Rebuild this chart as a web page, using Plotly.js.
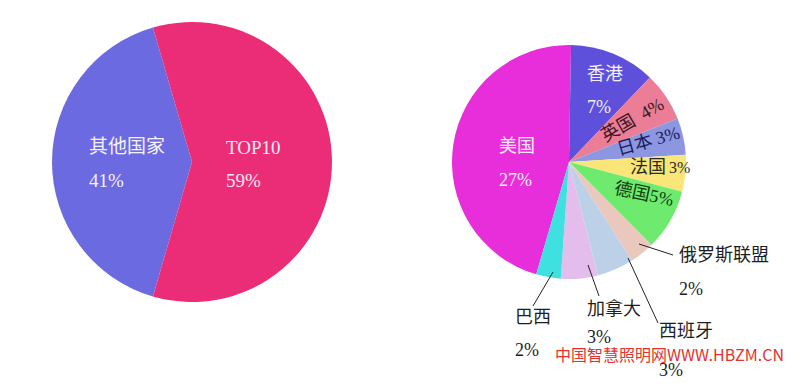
<!DOCTYPE html>
<html><head><meta charset="utf-8">
<script src="https://cdn.plot.ly/plotly-3.0.1.min.js"></script>
<style>html,body{margin:0;padding:0;background:#fff}#chart{width:800px;height:388px}</style>
</head><body><div id="chart"></div>
<script>
// ---- data ----
const overviewLabels = ['其他国家', 'TOP10'];
const overviewValues = [41, 59];
const overviewColors = ['#6C6AE0', '#EB2D78'];

const topLabels = ['美国', '香港', '英国', '日本', '法国', '德国', '俄罗斯联盟', '西班牙', '加拿大', '巴西'];
const topValues = [27, 7, 4, 3, 3, 5, 2, 3, 3, 2];
const topColors = ['#E82DDA', '#5F50DC', '#EB7D96', '#8C96E1', '#FAE678', '#6EEB6E', '#EBC8BE', '#BCD0E8', '#E3BDEB', '#3FE0E0'];

const watermark = '中国智慧照明网WWW.HBZM.CN';

// ---- layout helpers ----
const W = 800, H = 388;
const px = x => x / W, py = y => 1 - y / H;
const FONT = '"Liberation Serif", "Noto Sans CJK SC", serif';
const pct = v => v + '%';

const overviewSum = overviewValues.reduce((a, b) => a + b, 0);
const topSum = topValues.reduce((a, b) => a + b, 0);

// label placement (pixels)
const overviewPlace = [
  {nx: 87, ny: 146, qx: 87, qy: 180, color: '#F4F2FF'},
  {nx: 224, ny: 147, qx: 224, qy: 180, color: '#FFE8F2'}
];
const topPlace = [
  {nx: 497, ny: 146, qx: 497, qy: 180, color: '#FBEAFB'},
  {nx: 585, ny: 74, qx: 585, qy: 107, color: '#F2F0FF'},
  {rot: true, x: 632, y: 120, angle: -30, sep: '&nbsp;&nbsp;', color: '#3A1620'},
  {rot: true, x: 648, y: 141, angle: -16, sep: '&nbsp;', color: '#18205A'},
  {nx: 628, ny: 167, qx: 667, qy: 167, color: '#2A2A20', qsize: 16},
  {rot: true, x: 644, y: 194, angle: 12, sep: '', color: '#0E3A0E'},
  {nx: 677, ny: 255, qx: 677, qy: 289, color: '#1E1E1E', line: [639, 244, 673, 255]},
  {nx: 657, ny: 331, qx: 657, qy: 370, color: '#1E1E1E', line: [628, 258, 658, 323]},
  {nx: 585, ny: 308, qx: 585, qy: 337, color: '#1E1E1E', line: [588, 265, 599, 296]},
  {nx: 513, ny: 317, qx: 513, qy: 350, color: '#1E1E1E', line: [553, 272, 533, 306]}
];

const annotations = [];
const shapes = [];
function addLabels(labels, values, places, size) {
  labels.forEach((lab, i) => {
    const p = places[i];
    const font = {family: FONT, size: size, color: p.color};
    if (p.rot) {
      annotations.push({xref: 'paper', yref: 'paper', x: px(p.x), y: py(p.y), xanchor: 'center', yanchor: 'middle',
        text: lab + p.sep + pct(values[i]), textangle: p.angle, showarrow: false, font: font});
    } else {
      annotations.push({xref: 'paper', yref: 'paper', x: px(p.nx), y: py(p.ny), xanchor: 'left', yanchor: 'middle',
        text: lab, showarrow: false, font: font});
      annotations.push({xref: 'paper', yref: 'paper', x: px(p.qx), y: py(p.qy), xanchor: 'left', yanchor: 'middle',
        text: pct(values[i]), showarrow: false, font: Object.assign({}, font, p.qsize ? {size: p.qsize} : {})});
    }
    if (p.line) {
      shapes.push({type: 'line', xref: 'paper', yref: 'paper', x0: px(p.line[0]), y0: py(p.line[1]),
        x1: px(p.line[2]), y1: py(p.line[3]), line: {color: '#222', width: 1}});
    }
  });
}
addLabels(overviewLabels, overviewValues, overviewPlace, 19);
addLabels(topLabels, topValues, topPlace, 18);

annotations.push({xref: 'paper', yref: 'paper', x: px(553), y: py(354), xanchor: 'left', yanchor: 'middle',
  text: watermark, showarrow: false, font: {family: '"Noto Sans CJK SC", "Noto Sans", sans-serif', size: 16, color: '#E8302C'}});

// left pie: centre (192,162) r 140 ; right pie: centre (569,162) r 117
const traces = [
  {
    type: 'pie', labels: overviewLabels, values: overviewValues, sort: false,
    direction: 'clockwise', rotation: -(90 + overviewValues[0] / overviewSum * 180),
    marker: {colors: overviewColors, line: {width: 0}},
    textinfo: 'none', hoverinfo: 'label+value',
    domain: {x: [px(52), px(332)], y: [py(302), py(22)]}
  },
  {
    type: 'pie', labels: topLabels, values: topValues, sort: false,
    direction: 'clockwise', rotation: -(topValues[0] / topSum * 360) + 1,
    marker: {colors: topColors, line: {width: 0}},
    textinfo: 'none', hoverinfo: 'label+value',
    domain: {x: [px(452), px(686)], y: [py(279), py(45)]}
  }
];

const layout = {
  width: W, height: H,
  margin: {l: 0, r: 0, t: 0, b: 0},
  paper_bgcolor: '#ffffff',
  showlegend: false,
  annotations: annotations,
  shapes: shapes
};

Plotly.newPlot('chart', traces, layout, {displayModeBar: false, staticPlot: true});
</script>
</body></html>
